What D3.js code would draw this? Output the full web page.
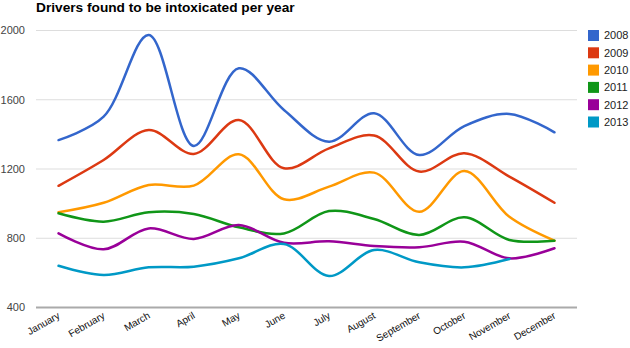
<!DOCTYPE html>
<html>
<head>
<meta charset="utf-8">
<script src="https://cdn.jsdelivr.net/npm/d3@7"></script>
<style>
  html, body { margin: 0; padding: 0; background: #fff; }
  svg { display: block; font-family: "Liberation Sans", Arial, sans-serif; }
</style>
</head>
<body>
<svg id="chart" width="630" height="348"></svg>
<script>
// Monthly counts of drivers found to be intoxicated, one series per year
const months = ["January", "February", "March", "April", "May", "June",
                "July", "August", "September", "October", "November", "December"];
const years = ["2008", "2009", "2010", "2011", "2012", "2013"];
const values2008 = [1367, 1502, 1974, 1333, 1782, 1541, 1358, 1522, 1281, 1448, 1518, 1412];
const values2009 = [1103, 1252, 1425, 1287, 1483, 1204, 1319, 1393, 1185, 1291, 1156, 1005];
const values2010 = [950, 1005, 1108, 1104, 1285, 1025, 1098, 1179, 953, 1188, 924, 786];
const values2011 = [944, 896, 950, 940, 863, 828, 957, 911, 819, 921, 790, 786];
const values2012 = [828, 736, 857, 796, 876, 774, 782, 755, 748, 780, 684, 742];
const values2013 = [641, 588, 632, 636, 684, 767, 582, 732, 661, 632, 680, null];
const yTicks = [400, 800, 1200, 1600, 2000];
const colors = ["#3366cc", "#dc3912", "#ff9900", "#109618", "#990099", "#0099c6"];

const seriesValues = [values2008, values2009, values2010, values2011, values2012, values2013];
const series = years.map((yr, i) => ({ year: yr, color: colors[i], values: seriesValues[i] }));

const svg = d3.select("#chart");
const plot = { left: 36, right: 577, top: 30.5, bottom: 307.5 };

const x = d3.scaleBand().domain(months).range([plot.left, plot.right]);
const y = d3.scaleLinear().domain([400, 2000]).range([plot.bottom, plot.top]);

// Title
svg.append("text")
  .attr("x", 36).attr("y", 11.5)
  .attr("font-size", 13.7).attr("font-weight", "bold").attr("fill", "#000")
  .text("Drivers found to be intoxicated per year");

// Horizontal gridlines and value labels
svg.append("g").selectAll("line").data(yTicks.filter(t => t !== 400)).join("line")
  .attr("x1", plot.left).attr("x2", plot.right)
  .attr("y1", d => y(d)).attr("y2", d => y(d))
  .attr("stroke", "#dddddd").attr("stroke-width", 1);

svg.append("g").selectAll("text").data(yTicks).join("text")
  .attr("x", 25).attr("y", d => y(d)).attr("dy", "0.35em")
  .attr("text-anchor", "end").attr("font-size", 11).attr("fill", "#444")
  .text(d => d);

// Baseline
svg.append("line")
  .attr("x1", plot.left).attr("x2", plot.right)
  .attr("y1", y(400)).attr("y2", y(400))
  .attr("stroke", "#aaaaaa").attr("stroke-width", 2);

// Slanted month labels
svg.append("g").selectAll("text").data(months).join("text")
  .attr("transform", d => `translate(${x(d) + x.bandwidth() / 2 + 2},${plot.bottom + 10}) rotate(-30)`)
  .attr("text-anchor", "end").attr("font-size", 10).attr("fill", "#111")
  .text(d => d);

// Smoothed series lines
const line = d3.line()
  .defined(d => d != null)
  .x((d, i) => x(months[i]) + x.bandwidth() / 2)
  .y(d => y(d))
  .curve(d3.curveCatmullRom.alpha(0.5));

svg.append("g").selectAll("path").data(series).join("path")
  .attr("d", d => line(d.values))
  .attr("fill", "none")
  .attr("stroke", d => d.color)
  .attr("stroke-width", 2.5)
  .attr("stroke-linejoin", "round")
  .attr("stroke-linecap", "round");

// Legend
const legend = svg.append("g").selectAll("g").data(series).join("g")
  .attr("transform", (d, i) => `translate(588,${30 + i * 17.3})`);
legend.append("rect")
  .attr("width", 11).attr("height", 11)
  .attr("fill", d => d.color);
legend.append("text")
  .attr("x", 16).attr("y", 5.5).attr("dy", "0.35em")
  .attr("font-size", 11).attr("fill", "#222")
  .text(d => d.year);
</script>
</body>
</html>
